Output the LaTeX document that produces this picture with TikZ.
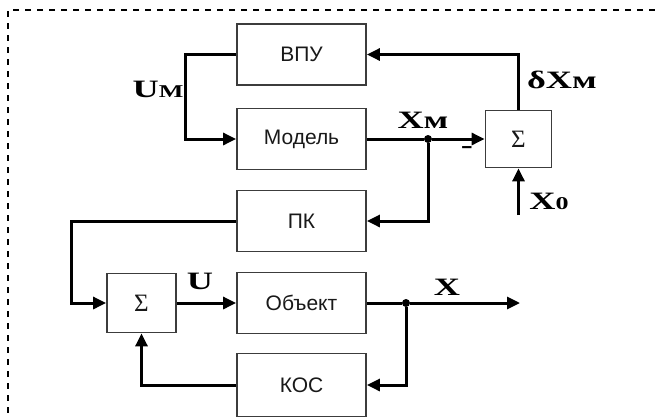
\documentclass[tikz,border=0pt]{standalone}
\usepackage{fontspec}
\setmainfont{Liberation Serif}
\newfontfamily\boxfont{Liberation Sans}
\newfontfamily\lblfont[FakeStretch=1.45]{Liberation Serif}
\usetikzlibrary{arrows.meta}

\definecolor{boxgray}{RGB}{60,60,60}
\definecolor{textgray}{RGB}{25,25,25}

\tikzset{
	block/.style={draw=boxgray, line width=1.8pt, fill=white, minimum width=129pt, minimum height=61pt, inner sep=0pt, font=\boxfont\fontsize{21}{23}\selectfont, text=textgray},
	summer/.style={block, minimum width=66pt, minimum height=57pt, font=\rmfamily\fontsize{25}{27}\selectfont},
	sig/.style={line width=3pt, -{Triangle[length=13pt,width=12pt]}},
	wire/.style={line width=3pt},
	lbl/.style={font=\lblfont\bfseries\fontsize{25}{27}\selectfont, inner sep=0pt},
	junction/.style={circle, fill=black, minimum size=8pt, inner sep=0pt}
}

\begin{document}
\begin{tikzpicture}[x=1pt,y=1pt]
	
	\useasboundingbox (0,0) rectangle (655,-418);
	
	\draw[line width=1.5pt, dash pattern=on 6pt off 6pt] (655,-10) -- (8,-10) -- (8,-418);
	
	\node[block] (vpu) at (301.5,-54.5) {ВПУ};
	\node[block] (model) at (301.5,-139) {Модель};
	\node[block] (pk) at (301.5,-221) {ПК};
	\node[block] (obj) at (301.5,-303) {Объект};
	\node[block, minimum height=63pt] (kos) at (301.5,-385) {КОС};
	
	\node[summer] (sumM) at (518.5,-139) {Σ};
	\node[summer, minimum width=69pt, minimum height=59pt] (sumU) at (141.5,-303) {Σ};
	
	\node[junction] (xmdot) at (428,-139) {};
	\node[junction] (xdot) at (406,-303) {};
	\coordinate (xend) at (520,-303);
	\coordinate (x0start) at (518.5,-215);
	
	\draw[sig] (vpu.west) -- ++(-51,0) |- (model.west);
	\draw[wire] (model.east) -- (xmdot);
	\draw[sig] (xmdot) -- (sumM.west);
	\draw[sig] (sumM.north) |- (vpu.east);
	\draw[sig] (x0start) -- (sumM.south);
	\draw[sig] (xmdot) |- (pk.east);
	\draw[sig] (pk.west) -- ++(-165,0) |- (sumU.west);
	\draw[sig] (sumU.east) -- (obj.west);
	\draw[wire] (obj.east) -- (xdot);
	\draw[sig] (xdot) -- (xend);
	\draw[sig] (xdot) |- (kos.east);
	\draw[sig] (kos.west) -| (sumU.south);
	
	\node[lbl] (um) at (158,-89) {U{\fontsize{18}{19}\selectfont М}};
	\node[lbl] (xm) at (423,-120) {Xм};
	\node[lbl] (dxm) at (562,-80) {δXм};
	\node[lbl] (x0) at (549,-201) {X{\fontsize{18}{19}\selectfont 0}};
	\node[lbl] (u) at (200,-281) {U};
	\node[lbl] (x) at (447,-287) {X};
	\node[lbl] (minus) at (467,-150) {-};
	
\end{tikzpicture}
\end{document}
